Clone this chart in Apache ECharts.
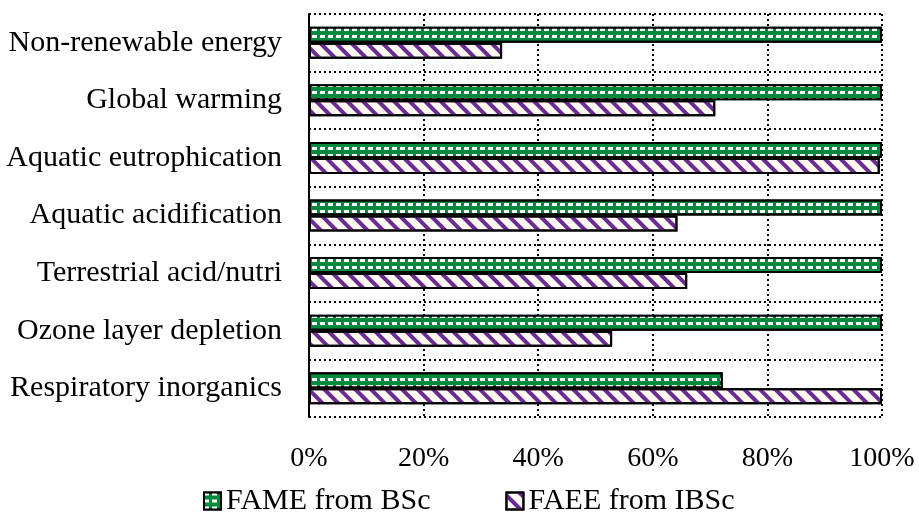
<!DOCTYPE html>
<html><head><meta charset="utf-8">
<script src="https://cdn.jsdelivr.net/npm/echarts@6/dist/echarts.min.js"></script>
<style>html,body{margin:0;padding:0;background:#fff}#c{width:919px;height:523px}</style>
</head><body><div id="c"></div>
<script>
const categories = ['Non-renewable energy','Global warming','Aquatic eutrophication','Aquatic acidification','Terrestrial acid/nutri','Ozone layer depletion','Respiratory inorganics'];
const fameValues = [100, 100, 100, 100, 100, 100, 72.2];
const faeeValues = [33.7, 70.9, 99.6, 64.3, 66.0, 52.9, 100];
const seriesNames = ['FAME from BSc', 'FAEE from IBSc'];

const font = 'Liberation Serif, Times New Roman, serif';
const chart = echarts.init(document.getElementById('c'));
chart.setOption({
  animation: false,
  aria: {enabled: false},
  grid: {left: 309, right: 37, top: 14, bottom: 106, containLabel: false},
  xAxis: {
    type: 'value', min: 0, max: 100, interval: 20,
    axisLabel: {formatter: v => v + '%', fontFamily: font, fontSize: 28, color: '#000', margin: 28},
    axisLine: {show: false}, axisTick: {show: false},
    splitLine: {show: true, lineStyle: {color: '#000', type: [2, 3], width: 2}}
  },
  yAxis: {
    type: 'category', data: categories, inverse: true,
    axisLabel: {fontFamily: font, fontSize: 30, color: '#000', margin: 27},
    axisLine: {show: true, lineStyle: {color: '#000', width: 2}},
    axisTick: {show: false},
    splitLine: {show: true, lineStyle: {color: '#000', type: [2, 3], width: 2}}
  },
  legend: {
    top: 481, left: 198, itemGap: 75, itemWidth: 17, itemHeight: 17,
    textStyle: {fontFamily: font, fontSize: 30, color: '#000'},
    icon: 'rect'
  },
  series: [
    {
      name: seriesNames[0], type: 'bar', data: fameValues,
      barWidth: 16, barGap: '0%', barCategoryGap: '50%',
      itemStyle: {
        color: '#008a3c', borderColor: '#000', borderWidth: 2,
        decal: {symbol: 'rect', color: '#ffffff', dashArrayX: [5, 3], dashArrayY: [3, 4], symbolSize: 1, rotation: 0}
      }
    },
    {
      name: seriesNames[1], type: 'bar', data: faeeValues,
      barWidth: 16, barGap: '0%',
      itemStyle: {
        color: '#fffaf3', borderColor: '#000', borderWidth: 2,
        decal: {symbol: 'rect', color: '#6a2c91', dashArrayX: [1, 0], dashArrayY: [4, 7], symbolSize: 1, rotation: Math.PI / 4}
      }
    }
  ]
});
</script></body></html>
